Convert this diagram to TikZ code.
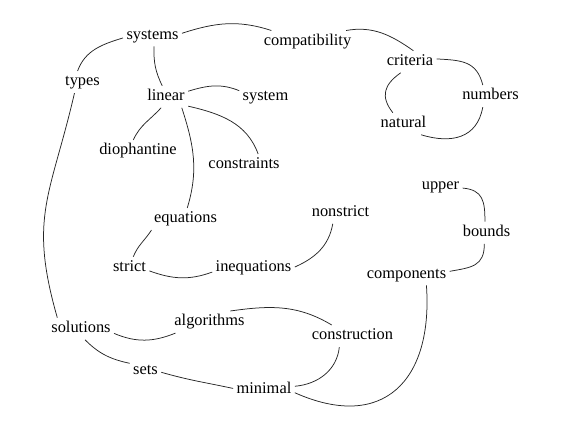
\documentclass[tikz,border=0pt]{standalone}
\usepackage{fontspec}
\setmainfont{Liberation Serif}
\newfontfamily\wordfont{Liberation Serif}
\begin{document}
\begin{tikzpicture}[x=1pt,y=1pt,
  word/.style={font=\wordfont\fontsize{16.4}{19}\selectfont, anchor=base, inner sep=1.5pt, outer sep=2pt, text height=11.5pt, text depth=3.6pt},
  link/.style={line width=0.75pt, draw=black!85}]
\useasboundingbox (0,0) rectangle (573,423);
\node[word] (systems) at (152.5,383.7) {systems};
\node[word] (compatibility) at (307.5,377.5) {compatibility};
\node[word] (types) at (82.5,337) {types};
\node[word] (linear) at (166,322.3) {linear};
\node[word] (system) at (265.5,322.3) {system};
\node[word] (criteria) at (410,357.3) {criteria};
\node[word] (numbers) at (490.5,323) {numbers};
\node[word] (natural) at (403.5,295.3) {natural};
\node[word] (diophantine) at (138,268) {diophantine};
\node[word] (constraints) at (244,254) {constraints};
\node[word] (upper) at (440.5,233.7) {upper};
\node[word] (nonstrict) at (340.5,206.3) {nonstrict};
\node[word] (bounds) at (486.5,186.3) {bounds};
\node[word] (equations) at (185.5,200) {equations};
\node[word] (strict) at (129.5,151.3) {strict};
\node[word] (inequations) at (253.5,151.3) {inequations};
\node[word] (components) at (406.5,144.7) {components};
\node[word] (solutions) at (81,90.3) {solutions};
\node[word] (algorithms) at (209.5,97) {algorithms};
\node[word] (construction) at (352.5,83) {construction};
\node[word] (sets) at (145.5,48.7) {sets};
\node[word] (minimal) at (264,29) {minimal};

\draw[link] (systems.4) to[out=18,in=162] (compatibility.163);
\draw[link] (systems.185) to[out=197,in=70] (types.114);
\draw[link] (systems.278) to[out=268,in=116] (linear.109);
\draw[link] (types.234) to[out=257,in=106,looseness=1.2] (solutions.155);
\draw[link] (linear.14) to[out=17,in=158] (system.167);
\draw[link] (linear.246) to[out=228,in=66] (diophantine.113);
\draw[link] (linear.337) to[out=347,in=110] (constraints.38);
\draw[link] (linear.325) to[out=288,in=73] (equations.81);
\draw[link] (equations.198) to[out=237,in=68] (strict.71);
\draw[link] (strict.351) to[out=340,in=200] (inequations.186);
\draw[link] (inequations.1) to[out=24,in=260] (nonstrict.235);
\draw[link] (solutions.352) to[out=337,in=202] (algorithms.198);
\draw[link] (solutions.290) to[out=315,in=168] (sets.156);
\draw[link] (sets.353) to[out=344,in=168] (minimal.177);
\draw[link] (algorithms.28) to[out=8,in=149] (construction.152);
\draw[link] (construction.220) to[out=264,in=5] (minimal.7);
\draw[link] (minimal.355) to[out=336,in=274,looseness=1.45] (components.331);
\draw[link] (upper.353) to[out=355,in=90,looseness=1.3] (bounds.98);
\draw[link] (bounds.259) to[out=270,in=10,looseness=1.3] (components.4);
\draw[link] (compatibility.16) to[out=10,in=145] (criteria.73);
\draw[link] (criteria.6) to[out=357,in=104,looseness=1.2] (numbers.125);
\draw[link] (criteria.230) to[out=215,in=128,looseness=1.3] (natural.134);
\draw[link] (natural.328) to[out=343,in=260,looseness=1.2] (numbers.235);
\end{tikzpicture}
\end{document}
